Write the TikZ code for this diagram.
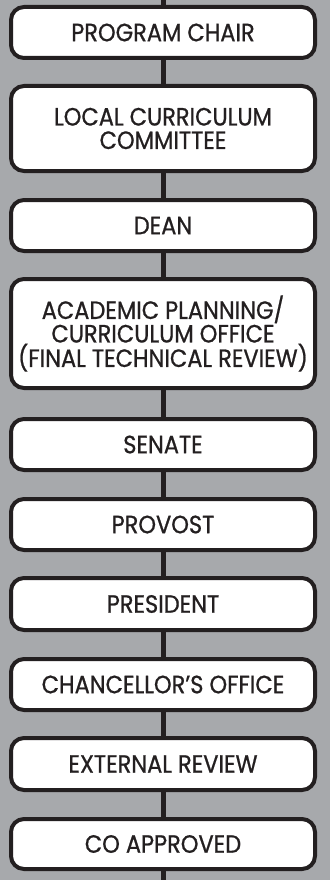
\documentclass[tikz,border=0pt]{standalone}
\usepackage{fontspec}
\setmainfont{Poppins}[FakeStretch=0.9, FakeBold=0.8]
\definecolor{bggray}{HTML}{A7A9AC}
\definecolor{ink}{HTML}{231F20}
\tikzset{
  stepbox/.style={draw=ink, fill=white, line width=4pt, rounded corners=13pt,
    minimum width=304pt, inner sep=0pt, align=center, text=ink,
    font=\fontsize{25}{23.5}\selectfont},
  link/.style={draw=ink, line width=5pt}
}
\begin{document}
\begin{tikzpicture}[x=1pt,y=-1pt]
\fill[bggray] (0,0) rectangle (330,880);
\useasboundingbox (0,0) rectangle (330,880);
\coordinate (top) at (163,0);
\coordinate (bot) at (163,880);
\node[stepbox, minimum height=51pt]  (b1)  at (163,32.5)  {PROGRAM CHAIR};
\node[stepbox, minimum height=85pt]  (b2)  at (163,128.5) {LOCAL CURRICULUM\\COMMITTEE};
\node[stepbox, minimum height=51pt]  (b3)  at (163,225.5) {DEAN};
\node[stepbox, minimum height=109pt] (b4)  at (163,333.5) {ACADEMIC PLANNING/\\CURRICULUM OFFICE\\(FINAL TECHNICAL REVIEW)};
\node[stepbox, minimum height=51pt]  (b5)  at (163,444.5) {SENATE};
\node[stepbox, minimum height=51pt]  (b6)  at (163,524.5) {PROVOST};
\node[stepbox, minimum height=52pt]  (b7)  at (163,604)   {PRESIDENT};
\node[stepbox, minimum height=51pt]  (b8)  at (163,684.5) {CHANCELLOR’S OFFICE};
\node[stepbox, minimum height=52pt]  (b9)  at (163,764)   {EXTERNAL REVIEW};
\node[stepbox, minimum height=50pt]  (b10) at (163,844)   {CO APPROVED};
\draw[link] (top) -- (b1.north);
\draw[link] (b1.south) -- (b2.north);
\draw[link] (b2.south) -- (b3.north);
\draw[link] (b3.south) -- (b4.north);
\draw[link] (b4.south) -- (b5.north);
\draw[link] (b5.south) -- (b6.north);
\draw[link] (b6.south) -- (b7.north);
\draw[link] (b7.south) -- (b8.north);
\draw[link] (b8.south) -- (b9.north);
\draw[link] (b9.south) -- (b10.north);
\draw[link] (b10.south) -- (bot);
\end{tikzpicture}
\end{document}
